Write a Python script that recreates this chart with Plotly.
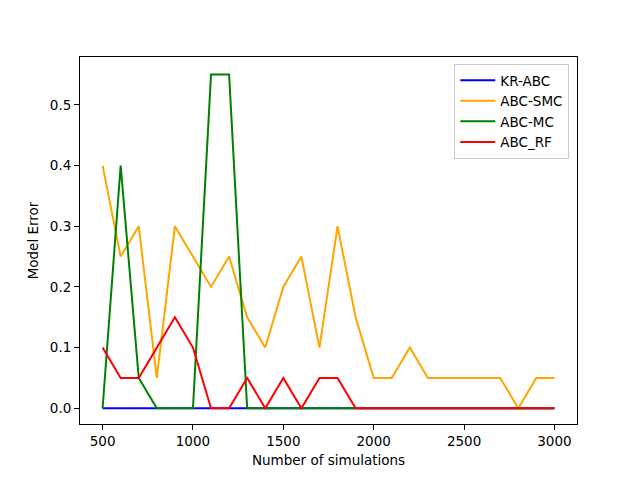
import plotly.graph_objects as go

x_sims = list(range(500, 3001, 100))
kr_abc = [0.0] * 26
abc_smc = [0.4, 0.25, 0.3, 0.05, 0.3, 0.25, 0.2, 0.25, 0.15, 0.1, 0.2, 0.25, 0.1,
           0.3, 0.15, 0.05, 0.05, 0.1, 0.05, 0.05, 0.05, 0.05, 0.05, 0.0, 0.05, 0.05]
abc_mc = [0.0, 0.4, 0.05, 0.0, 0.0, 0.0, 0.55, 0.55, 0.0, 0.0, 0.0, 0.0, 0.0,
          0.0, 0.0, 0.0, 0.0, 0.0, 0.0, 0.0, 0.0, 0.0, 0.0, 0.0, 0.0, 0.0]
abc_rf = [0.1, 0.05, 0.05, 0.1, 0.15, 0.1, 0.0, 0.0, 0.05, 0.0, 0.05, 0.0, 0.05,
          0.05, 0.0, 0.0, 0.0, 0.0, 0.0, 0.0, 0.0, 0.0, 0.0, 0.0, 0.0, 0.0]

series = [("KR-ABC", kr_abc, "blue"), ("ABC-SMC", abc_smc, "orange"),
          ("ABC-MC", abc_mc, "green"), ("ABC_RF", abc_rf, "red")]

fig = go.Figure()
for name, ys, col in series:
    fig.add_trace(go.Scatter(x=x_sims, y=ys, mode="lines", name=name,
                             line=dict(color=col, width=2)))

font = dict(family="DejaVu Sans", size=13.5, color="black")
axis_common = dict(showline=True, linecolor="black", linewidth=1, mirror=True,
                   ticks="outside", ticklen=5, tickwidth=1, tickcolor="black",
                   showgrid=False, zeroline=False, tickfont=font)
fig.update_xaxes(range=[375, 3125], tickvals=[500, 1000, 1500, 2000, 2500, 3000],
                 ticktext=["500", "1000", "1500", "2000", "2500", "3000"],
                 title=dict(text="Number of simulations", standoff=7, font=font),
                 **axis_common)
fig.update_yaxes(range=[-0.026, 0.579], tickvals=[0, 0.1, 0.2, 0.3, 0.4, 0.5],
                 ticktext=["0.0", "0.1", "0.2", "0.3", "0.4", "0.5"],
                 title=dict(text="Model Error", standoff=8, font=font),
                 **axis_common)
fig.update_layout(width=640, height=478, plot_bgcolor="white", paper_bgcolor="white",
                  margin=dict(l=80, r=63, t=57, b=54),
                  legend=dict(x=0.9845, y=0.981, xanchor="right", yanchor="top",
                              bordercolor="#cccccc", borderwidth=1, bgcolor="white",
                              font=font, tracegroupgap=0, itemwidth=35))
fig.write_html("out.html")
